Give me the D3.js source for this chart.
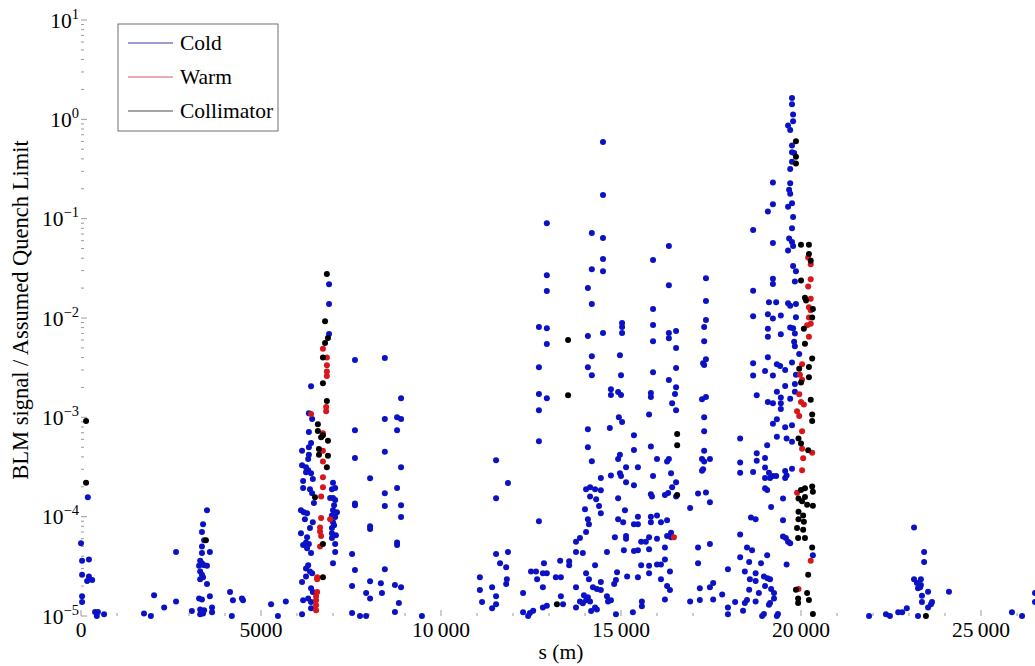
<!DOCTYPE html>
<html>
<head>
<meta charset="utf-8">
<script src="https://cdn.jsdelivr.net/npm/d3@7"></script>
<style>
  body { margin: 0; background: #fff; }
  text { font-family: "Liberation Serif", "Times New Roman", serif; }
</style>
</head>
<body>
<svg id="chart" width="1035" height="666"></svg>
<script>

// [s (m), BLM signal / assumed quench limit]
var cold = [
    // 0 - 6000 m
    [0,5.4e-5],[30,3.6e-5],[220,3.7e-5],[30,2.6e-5],[220,2.5e-5],[170,2.25e-5],[310,2.3e-5],[30,1.58e-5],[30,1.38e-5],
    [190,1.57e-4],[390,1.1e-5],[470,1.1e-5],[640,1.04e-5],[440,1.0e-5],[1750,1.06e-5],[1940,1.0e-5],[2030,1.62e-5],
    [2310,1.22e-5],[2640,4.4e-5],[2640,1.4e-5],[3080,1.12e-5],
    [3500,1.16e-4],[3390,8.4e-5],[3360,7.0e-5],[3420,5.8e-5],[3360,5.0e-5],[3360,4.3e-5],[3580,4.4e-5],[3310,3.6e-5],
    [3360,3.4e-5],[3280,3.2e-5],[3420,3.25e-5],[3500,3.2e-5],[3310,2.8e-5],[3360,2.6e-5],[3310,2.35e-5],[3390,2.45e-5],
    [3500,2.1e-5],[3280,1.5e-5],[3360,1.47e-5],[3580,1.58e-5],[3310,1.16e-5],[3420,1.14e-5],[3640,1.22e-5],[3640,1.09e-5],
    [3310,1.04e-5],[3390,1.06e-5],
    [4140,1.74e-5],[4220,1.44e-5],[4470,1.5e-5],[4500,1.44e-5],[4190,1.0e-5],[5280,1.31e-5],[5690,1.4e-5],[5470,1.0e-5],
    // 6000 - 7300 m
    [6890,2.19e-2],[6890,1.38e-2],[6890,6.9e-3],[6390,2.06e-3],[6330,1.1e-3],[6420,9.6e-4],[6330,7.1e-4],[6390,5.5e-4],
    [6330,5.0e-4],[6140,4.6e-4],[6330,4.2e-4],[6310,3.8e-4],[6140,3.3e-4],[6250,3.15e-4],[6310,2.94e-4],[6390,2.74e-4],
    [6250,2.8e-4],[6440,2.4e-4],[6170,2.28e-4],[7000,2.2e-4],[7060,1.94e-4],[6970,1.89e-4],[6170,1.94e-4],[6360,1.89e-4],
    [6420,1.72e-4],[7000,1.54e-4],[7060,1.47e-4],[6920,1.54e-4],[6470,1.37e-4],[7030,1.3e-4],[7000,1.16e-4],[7110,1.11e-4],
    [6110,1.16e-4],[6190,1.11e-4],[6280,1.08e-4],[6970,1.03e-4],[7060,9.9e-5],[6220,9.4e-5],[7000,8.8e-5],[6440,8.8e-5],
    [7030,8.2e-5],[6970,7.7e-5],[6360,7.7e-5],[6970,6.8e-5],[7080,6.5e-5],[6110,6.8e-5],[6280,6.2e-5],[6970,6.1e-5],
    [6250,5.5e-5],[6170,5.2e-5],[6330,5.3e-5],[7060,5.3e-5],[6280,4.8e-5],[7060,4.4e-5],[6390,4.3e-5],[7000,3.4e-5],
    [6310,3.25e-5],[6250,3.0e-5],[6360,2.8e-5],[6250,2.5e-5],[6420,2.7e-5],[6140,2.2e-5],[6390,1.9e-5],[6440,1.74e-5],
    [6170,1.44e-5],[6310,1.5e-5],[6390,1.38e-5],[6390,1.2e-5],[6140,1.04e-5],
    // 7500 - 9500 m
    [7610,3.77e-3],[8440,3.95e-3],[8890,1.56e-3],[8440,9.6e-4],[8780,1.0e-3],[8890,9.6e-4],[8780,7.4e-4],[7610,7.4e-4],
    [8440,4.5e-4],[7610,3.9e-4],[8890,3.15e-4],[8030,2.44e-4],[8780,1.94e-4],[8440,1.72e-4],[8440,1.28e-4],[7610,1.3e-4],
    [7610,1.36e-4],[8890,1.3e-4],[8890,9.9e-5],[8030,8.0e-5],[8030,7.5e-5],[8780,5.5e-5],[8780,5.2e-5],[7530,4.2e-5],
    [7610,2.9e-5],[8440,2.95e-5],[8030,2.24e-5],[8330,2.14e-5],[7530,2.0e-5],[8720,2.05e-5],[8890,1.95e-5],[7920,1.7e-5],
    [8360,1.7e-5],[8030,1.5e-5],[8830,1.35e-5],[8720,1.1e-5],[7530,1.07e-5],[7750,1.0e-5],[7920,1.0e-5],[9470,1.0e-5],
    // 11000 - 18300 m
    [14500,0.59],[14500,0.173],[12940,0.090],[14190,0.0716],[14500,0.0638],[16330,0.053],[14500,0.0392],[15890,0.0383],
    [14190,0.031],[14500,0.0296],[12940,0.027],[17360,0.0252],[16330,0.0214],[14080,0.02],[12940,0.0187],[14190,0.0138],
    [17360,0.0148],[15890,0.0123],[17360,0.00953],[15030,0.0089],[15030,0.0081],[15030,0.00705],[15890,0.0085],
    [12720,0.0081],[12940,0.0079],[16330,0.00705],[16530,0.0074],[14500,0.00705],[16330,0.00627],[17310,0.0081],
    [17310,0.00585],[12940,0.00546],[14080,0.00657],[15890,0.00585],[16530,0.00498],[14190,0.00413],[14970,0.00422],
    [17280,0.00351],[17310,0.00336],[14080,0.0032],[17360,0.00385],[12720,0.0032],[16530,0.00313],[15890,0.00285],
    [14190,0.00266],[15000,0.00266],[16330,0.00237],[16530,0.00201],[14720,0.00192],[14920,0.0018],[14720,0.00168],
    [15000,0.00168],[15830,0.00176],[15830,0.0016],[16500,0.00172],[12720,0.00172],[12940,0.00156],[16420,0.00139],
    [17250,0.00152],[17360,0.0016],[16530,0.00118],[12720,0.00118],[14940,0.001],[15780,0.00107],[15030,0.0009],
    [17310,0.001],[17310,0.000726],[14080,0.00076],[14690,0.00078],[15360,0.00066],[12720,0.000575],[14080,0.0005],
    [15360,0.000468],[15830,0.00051],[14190,0.000362],[11530,0.00037],[17310,0.00046],[14920,0.00038],[14970,0.00042],
    [16000,0.00038],[16330,0.00038],[16280,0.00036],[17250,0.00038],[17470,0.00038],[17310,0.00036],[15470,0.000315],
    [15140,0.000315],[17280,0.0003],[17250,0.00029],[14970,0.000274],[15000,0.000256],[14720,0.00026],[14440,0.000245],
    [15140,0.000222],[11860,0.000218],[16390,0.000274],[16530,0.000222],[15890,0.000256],[15360,0.000207],[14030,0.000189],
    [14140,0.000198],[14280,0.000189],[14440,0.000185],[15830,0.000168],[15860,0.00016],[14140,0.00016],[14310,0.00015],
    [14920,0.000153],[16310,0.000173],[16420,0.000198],[16220,0.000165],[16530,0.00016],[17140,0.000171],[17360,0.000175],
    [17470,0.00014],[16920,0.000122],[11530,0.000153],[14390,0.000128],[14000,0.000119],[14440,0.000108],[15110,0.000116],
    [14080,9.4e-5],[14110,8.4e-5],[12720,9.0e-5],[14920,9.4e-5],[15060,8.8e-5],[15360,8.4e-5],[15470,8.4e-5],[15470,1.0e-4],
    [15830,1.0e-4],[16000,1.03e-4],[15830,8.8e-5],[16110,8.8e-5],[16280,9.2e-5],[14030,7.0e-5],[13860,6.1e-5],[13750,5.6e-5],
    [14830,6.2e-5],[15140,6.4e-5],[15140,6.0e-5],[15560,5.6e-5],[15690,5.6e-5],[15780,6.2e-5],[16000,6.0e-5],[16280,6.4e-5],
    [16390,6.9e-5],[16390,6.2e-5],[16220,4.9e-5],[15780,4.7e-5],[15360,4.5e-5],[15470,4.6e-5],[15080,4.6e-5],[11530,4.2e-5],
    [11860,4.4e-5],[17140,4.9e-5],[17470,5.3e-5],[13750,4.4e-5],[13940,4.3e-5],[14610,4.4e-5],[11640,3.4e-5],[11810,3.1e-5],
    [12500,2.8e-5],[12640,2.8e-5],[12860,3.4e-5],[12940,2.7e-5],[12830,2.7e-5],[13310,3.6e-5],[13560,3.55e-5],[13560,3.25e-5],
    [14280,3.25e-5],[14030,2.7e-5],[14890,2.75e-5],[15560,3.25e-5],[15780,3.2e-5],[15780,2.7e-5],[16000,3.3e-5],[16110,3.3e-5],
    [16220,3.7e-5],[16360,2.8e-5],[17140,3.4e-5],[17970,2.95e-5],[11080,2.45e-5],[11420,1.95e-5],[11830,2.35e-5],[11810,2.1e-5],
    [12670,2.35e-5],[12830,1.95e-5],[13190,2.45e-5],[13330,2.45e-5],[13750,1.95e-5],[13970,1.62e-5],[14110,2.35e-5],
    [14220,1.95e-5],[14330,1.87e-5],[14440,2.2e-5],[14440,1.83e-5],[14610,1.58e-5],[14810,2.1e-5],[14860,2.3e-5],
    [15170,2.5e-5],[15470,2.45e-5],[16110,2.35e-5],[16280,2.0e-5],[16360,1.83e-5],[17470,1.95e-5],[17560,2.15e-5],
    [17190,1.9e-5],[17810,1.65e-5],[11080,1.83e-5],[11530,1.58e-5],[12280,1.7e-5],[12830,1.22e-5],[12940,1.27e-5],
    [13330,1.58e-5],[13390,1.31e-5],[13750,1.22e-5],[13860,1.4e-5],[13940,1.34e-5],[14030,1.44e-5],[14080,1.54e-5],
    [14140,1.4e-5],[14280,1.22e-5],[14330,1.16e-5],[14720,1.44e-5],[15330,1.09e-5],[15580,1.4e-5],[15580,1.25e-5],
    [16220,1.47e-5],[16920,1.4e-5],[17190,1.45e-5],[17560,1.47e-5],[17970,1.22e-5],[11420,1.2e-5],[11530,1.31e-5],
    [11140,1.38e-5],[12280,1.09e-5],[12470,1.07e-5],[12560,1.13e-5],[14170,1.12e-5],[14860,1.04e-5],[17970,1.04e-5],
    [18170,1.38e-5],[18440,1.35e-5],[18920,1.0e-5],[19140,1.35e-5],[19330,1.0e-5],[14640,1.4e-5],[12420,1.0e-5],
    // 18300 - 20400 m
    [19750,1.64],[19750,1.42],[19780,1.12],[19780,0.955],[19640,0.867],[19700,0.78],[19750,0.546],[19750,0.466],
    [19810,0.458],[19750,0.375],[19700,0.316],[19220,0.231],[19700,0.227],[19670,0.196],[19700,0.178],[19220,0.140],
    [19080,0.118],[19750,0.143],[19640,0.132],[19780,0.104],[19750,0.0802],[18670,0.0771],[19220,0.0569],[19670,0.0632],
    [19750,0.0582],[19780,0.053],[19640,0.0477],[19780,0.0333],[19860,0.0296],[19220,0.0248],[19220,0.022],[19830,0.0233],
    [18670,0.0188],[19110,0.0144],[19310,0.0144],[19640,0.0141],[19700,0.0133],[19860,0.0138],[18670,0.0104],[19080,0.0109],
    [19220,0.0099],[19440,0.0106],[19860,0.0102],[19700,0.00804],[19780,0.0079],[19830,0.0070],[19080,0.0078],[19080,0.00647],
    [19440,0.00685],[19810,0.00575],[19830,0.00521],[19950,0.00434],[18670,0.00351],[19080,0.00402],[19330,0.00343],
    [19420,0.00329],[19560,0.00299],[19750,0.00356],[18670,0.00263],[19000,0.00292],[19220,0.00263],[19860,0.00269],
    [19830,0.00217],[19560,0.00207],[19330,0.00181],[18770,0.00167],[19440,0.00158],[19440,0.00139],[19700,0.00154],
    [19830,0.00181],[19080,0.00143],[19220,0.00139],[19440,0.00121],[19330,0.000955],[19220,0.00086],[19560,0.000793],
    [19750,0.000832],[18310,0.000614],[19060,0.000523],[19330,0.000638],[19600,0.000614],[19750,0.000567],[18770,0.000435],
    [18770,0.000365],[19000,0.00039],[18310,0.000352],[18670,0.000281],[19000,0.000312],[19110,0.000277],[19220,0.000256],
    [19000,0.000245],[19140,0.000245],[19310,0.000256],[19560,0.000288],[19560,0.000245],[19600,0.00026],[19750,0.000304],
    [18310,0.000277],[19000,0.000193],[19060,0.000186],[19500,0.000152],[19170,0.000125],[18610,9.8e-5],[18740,9.4e-5],
    [19500,9.2e-5],[19500,6.3e-5],[19580,6.1e-5],[19640,5.6e-5],[19700,5.4e-5],[18310,6.6e-5],[18500,4.9e-5],[18640,4.6e-5],
    [19060,4.1e-5],[20330,4.1e-5],[18310,3.9e-5],[18560,3.5e-5],[18440,2.8e-5],[18740,2.7e-5],[18890,3.4e-5],[18580,2.34e-5],
    [18740,2.25e-5],[18970,2.5e-5],[19070,2.4e-5],[19140,2.34e-5],[19600,3.3e-5],[19000,2.0e-5],[19170,1.87e-5],[19250,1.7e-5],
    [18560,1.84e-5],[18830,1.7e-5],[18500,1.45e-5],[18740,1.4e-5],[19250,1.5e-5],[19110,1.3e-5],[18970,1.05e-5],
    [19360,1.05e-5],[18390,1.13e-5],
    // 21000 - 26500 m
    [23140,7.8e-5],[23420,4.4e-5],[23420,3.5e-5],[23140,2.35e-5],[23330,2.35e-5],[23220,2.15e-5],[23330,2.05e-5],
    [23250,1.9e-5],[23310,1.95e-5],[23530,1.75e-5],[24110,1.75e-5],[23360,1.6e-5],[23360,1.38e-5],[23640,1.38e-5],
    [23610,1.31e-5],[23530,1.22e-5],[22940,1.2e-5],[22700,1.09e-5],[22810,1.09e-5],[21890,1.0e-5],[22360,1.04e-5],
    [22470,1.0e-5],[23250,1.0e-5],[25860,1.09e-5],[26140,1.0e-5],[26500,1.7e-5],[26500,1.38e-5]
];

var warm = [
    [6720,4.9e-3],[6830,4.0e-3],[6830,3.35e-3],[6830,2.9e-3],[6830,2.6e-3],[6810,1.27e-3],[6810,1.15e-3],[6390,1.08e-3],
    [6720,6.9e-4],[6720,4.6e-4],[6720,3.6e-4],[6720,2.5e-4],[6720,1.98e-4],[6670,1.6e-4],[6670,9.7e-5],[6920,9.4e-5],
    [6640,7.8e-5],[6640,7.1e-5],[6670,6.4e-5],[6640,5.0e-5],[6560,2.46e-5],[6560,2.35e-5],[6560,1.74e-5],[6530,1.58e-5],
    [6530,1.44e-5],[6530,1.28e-5],[6530,1.14e-5],[16470,6.2e-5],
    [20200,0.0407],[20270,0.0347],[20270,0.0246],[20200,0.0207],[20270,0.0156],[20220,0.0128],[20270,0.012],[20220,0.0101],
    [20170,0.00845],[20270,0.00873],[20220,0.00647],[20030,0.00343],[19970,0.00269],[20030,0.00239],[19950,0.00171],
    [20000,0.00143],[20080,0.00135],[19890,0.00115],[19950,0.00103],[20030,0.000723],[20030,0.000484],[20060,0.000387],
    [20310,0.00044],[20030,0.000294],[19890,0.000174],[20270,3.6e-5],[19930,1.87e-5]
];

var collimator = [
    [140,9.2e-4],[140,2.2e-4],[3470,5.8e-5],
    [6830,2.77e-2],[6780,9.3e-3],[6860,6.3e-3],[6780,5.6e-3],[6720,4.0e-3],[6720,2.2e-3],[6830,1.46e-3],[6580,8.5e-4],
    [6580,7.3e-4],[6720,6.6e-4],[6670,6.3e-4],[6860,5.8e-4],[6610,4.8e-4],[6610,4.2e-4],[6860,4.1e-4],[6830,3.15e-4],
    [6500,1.57e-4],[6720,5.3e-5],[6720,2.46e-5],
    [13530,6.0e-3],[13530,1.67e-3],[13220,1.31e-5],[16560,6.8e-4],[16560,5.25e-4],[16560,1.65e-4],
    [19860,0.60],[19860,0.42],[19860,0.36],[20000,0.0547],[20220,0.0547],[20220,0.0442],[20270,0.0376],[20000,0.0239],
    [20110,0.016],[20140,0.015],[20330,0.0123],[20310,0.0101],[20080,0.00778],[20110,0.00552],[20310,0.00392],
    [20220,0.00321],[19950,0.00308],[20220,0.00253],[20000,0.00224],[20270,0.0015],[20310,0.00107],[20310,0.000916],
    [19930,0.000614],[20000,0.000546],[20200,0.000465],[20000,0.000186],[20110,0.000193],[20310,0.000201],[20330,0.000178],
    [19930,0.000152],[20030,0.000143],[20110,0.000158],[20330,0.000129],[20170,0.000132],[19930,0.000112],[20060,0.000103],
    [19930,9.4e-5],[20080,8.9e-5],[19890,7.7e-5],[20060,7.4e-5],[19920,6.1e-5],[20110,6.1e-5],[20310,4.9e-5],[20200,2.6e-5],
    [19920,1.5e-5],[19920,1.35e-5],[20220,1.45e-5],[20330,1.05e-5],[19860,1.84e-5],[20170,1.7e-5],[23470,1.0e-5]
];

var xTicks = [0, 5000, 10000, 15000, 20000, 25000];
var xTickLabels = ["0", "5000", "10\u2009000", "15\u2009000", "20\u2009000", "25\u2009000"];
var yDecades = [-5, -4, -3, -2, -1, 0, 1];
var legendNames = ["Cold", "Warm", "Collimator"];

var svg = d3.select("#chart");
var frameColor = "#9a9a9a";

var x = d3.scaleLinear().domain([0, 27000]).range([81, 81 + 27000 * 0.036]);
var y = d3.scaleLog().domain([1e-5, 10]).range([616, 20]);

var left = x(0), right = x(27000), top = y(10), bottom = y(1e-5);

// frame
svg.append("rect")
    .attr("x", left).attr("y", top)
    .attr("width", right - left).attr("height", bottom - top)
    .attr("fill", "none").attr("stroke", frameColor).attr("stroke-width", 1);

// x ticks, every 1000 m on bottom and top
d3.range(0, 27000, 1000).forEach(function (s) {
    var major = (s % 5000 === 0);
    var len = major ? 6 : 3;
    svg.append("line")
        .attr("x1", x(s)).attr("x2", x(s))
        .attr("y1", bottom).attr("y2", bottom - len)
        .attr("stroke", frameColor);
    svg.append("line")
        .attr("x1", x(s)).attr("x2", x(s))
        .attr("y1", top).attr("y2", top + len)
        .attr("stroke", frameColor);
});

xTicks.forEach(function (s, i) {
    svg.append("text")
        .attr("x", x(s)).attr("y", 637)
        .attr("text-anchor", "middle")
        .attr("font-size", 21.5)
        .text(xTickLabels[i]);
});

// y ticks
yDecades.forEach(function (d) {
    var v = Math.pow(10, d);
    svg.append("line")
        .attr("x1", left).attr("x2", left + 6)
        .attr("y1", y(v)).attr("y2", y(v))
        .attr("stroke", frameColor);
    if (d < 1) {
        for (var k = 2; k <= 9; k++) {
            svg.append("line")
                .attr("x1", left).attr("x2", left + 3)
                .attr("y1", y(k * v)).attr("y2", y(k * v))
                .attr("stroke", frameColor);
        }
    }
    var t = svg.append("text")
        .attr("x", 79).attr("y", y(v) + 7.5)
        .attr("text-anchor", "end")
        .attr("font-size", 21.5);
    t.append("tspan").text("10");
    t.append("tspan")
        .attr("dy", -9).attr("font-size", 14.5)
        .text(d < 0 ? "\u2212" + (-d) : String(d));
});

// axis titles
svg.append("text")
    .attr("x", 561).attr("y", 659)
    .attr("text-anchor", "middle")
    .attr("font-size", 21.5)
    .text("s (m)");

svg.append("text")
    .attr("transform", "translate(28,310) rotate(-90)")
    .attr("text-anchor", "middle")
    .attr("font-size", 22.5)
    .text("BLM signal / Assumed Quench Limit");

// points
var series = [
    { data: cold, color: "#0b12c6" },
    { data: warm, color: "#d8171c" },
    { data: collimator, color: "#000000" }
];

series.forEach(function (ser) {
    svg.append("g").selectAll("circle")
        .data(ser.data)
        .enter().append("circle")
        .attr("cx", function (d) { return x(d[0]); })
        .attr("cy", function (d) { return y(d[1]); })
        .attr("r", 3)
        .attr("fill", ser.color);
});

// legend
var legendColors = ["#3a3a9e", "#d0606a", "#4a4a4a"];
var lg = svg.append("g");
lg.append("rect")
    .attr("x", 118).attr("y", 24)
    .attr("width", 160).attr("height", 107)
    .attr("fill", "#fff").attr("stroke", "#707070");

legendNames.forEach(function (name, i) {
    var ly = 43 + i * 34;
    lg.append("line")
        .attr("x1", 128).attr("x2", 173)
        .attr("y1", ly).attr("y2", ly)
        .attr("stroke", legendColors[i]).attr("stroke-width", 1.2);
    lg.append("text")
        .attr("x", 180).attr("y", ly + 7)
        .attr("font-size", 21.5)
        .text(name);
});

</script>
</body>
</html>
